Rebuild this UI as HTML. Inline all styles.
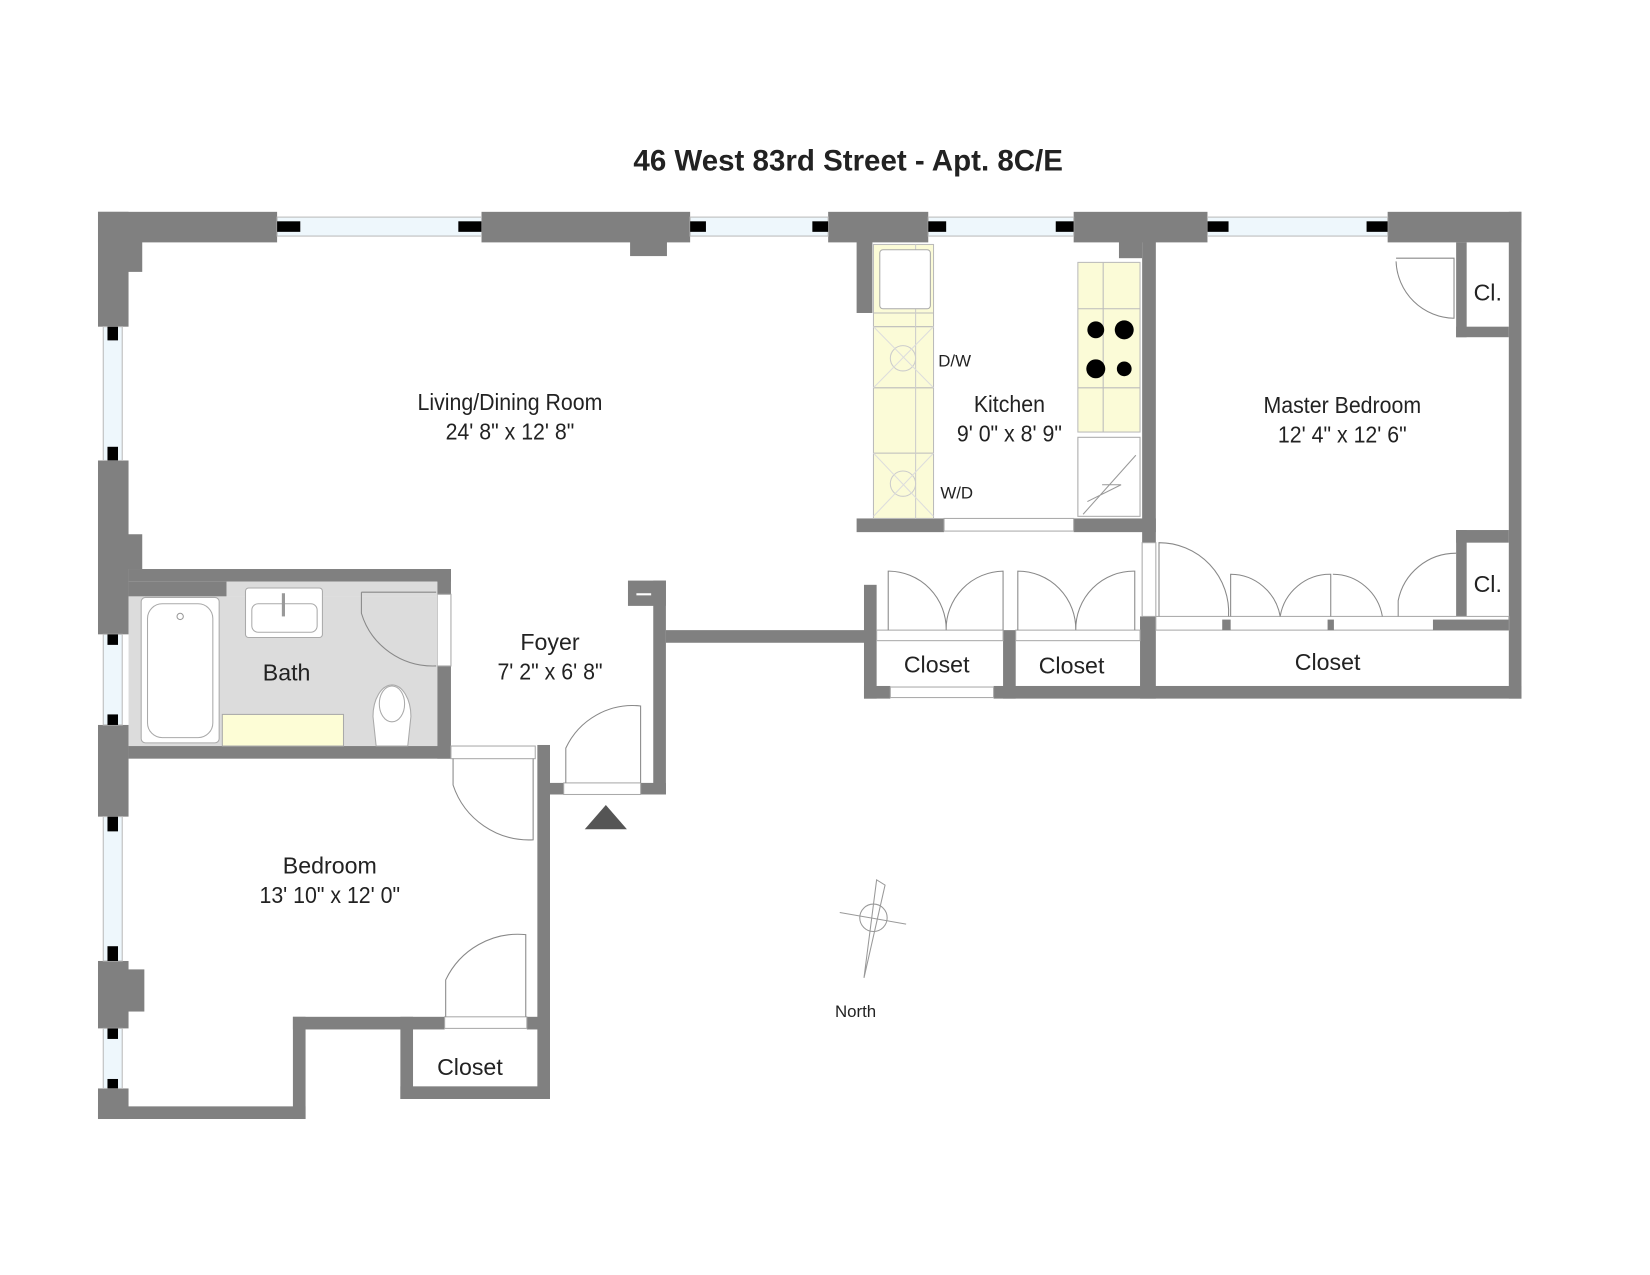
<!DOCTYPE html>
<html><head><meta charset="utf-8"><style>
html,body{margin:0;padding:0;background:#fff;}
svg{display:block;}
text{font-family:"Liberation Sans",sans-serif;fill:#222;}
</style></head><body>
<svg width="1650" height="1275" viewBox="0 0 1566 1210" xmlns="http://www.w3.org/2000/svg">
<rect width="1566" height="1210" fill="#fff"/>
<text x="805" y="162" font-size="28" font-weight="bold" text-anchor="middle" fill="#111">46 West 83rd Street - Apt. 8C/E</text>

<g fill="#808080">
<rect x="93" y="201" width="170" height="29"/>
<rect x="457" y="201" width="198" height="29"/>
<rect x="598" y="228" width="35" height="15"/>
<rect x="786" y="201" width="95" height="29"/>
<rect x="1019" y="201" width="127" height="29"/>
<rect x="1062" y="228" width="22" height="17"/>
<rect x="1317" y="201" width="127" height="29"/>
<rect x="93" y="201" width="29" height="109"/>
<rect x="120" y="228" width="15" height="30"/>
<rect x="93" y="437" width="29" height="165"/>
<rect x="120" y="507" width="15" height="33"/>
<rect x="93" y="688" width="29" height="87"/>
<rect x="93" y="912" width="29" height="64"/>
<rect x="120" y="920" width="17" height="40"/>
<rect x="93" y="1033" width="29" height="29"/>
<rect x="93" y="1050" width="197" height="12"/>
<rect x="278" y="965" width="12" height="97"/>
<rect x="278" y="965" width="144" height="12"/>
<rect x="500" y="965" width="22" height="12"/>
<rect x="380" y="965" width="12" height="78"/>
<rect x="380" y="1031" width="142" height="12"/>
<rect x="510" y="707" width="12" height="336"/>
<rect x="122" y="540" width="306" height="12"/>
<rect x="122" y="552" width="93" height="14"/>
<rect x="415" y="540" width="13" height="24"/>
<rect x="415" y="632" width="13" height="88"/>
<rect x="122" y="708" width="306" height="12"/>
<rect x="596" y="551" width="36" height="24"/>
<rect x="620" y="551" width="12" height="203"/>
<rect x="608" y="743" width="24" height="11"/>
<rect x="522" y="743" width="13" height="11"/>
<rect x="632" y="598" width="190" height="12"/>
<rect x="820" y="555" width="12" height="108"/>
<rect x="820" y="651" width="25" height="12"/>
<rect x="943" y="651" width="501" height="12"/>
<rect x="952" y="598" width="12" height="65"/>
<rect x="1082" y="585" width="15" height="78"/>
<rect x="1432" y="201" width="12" height="462"/>
<rect x="813" y="228" width="15" height="69"/>
<rect x="813" y="492" width="83" height="13"/>
<rect x="1019" y="492" width="78" height="13"/>
<rect x="1084" y="228" width="13" height="287"/>
<rect x="1382" y="230" width="10" height="90"/>
<rect x="1382" y="310" width="50" height="10"/>
<rect x="1382" y="503" width="50" height="12"/>
<rect x="1382" y="503" width="10" height="82"/>
</g>
<rect x="604" y="563" width="14" height="2" fill="#fff"/>

<g fill="#fff" stroke="#aaa" stroke-width="1">
<rect x="832" y="598" width="120" height="10"/>
<rect x="964" y="598" width="118" height="10"/>
<rect x="1097" y="585" width="335" height="13"/>
<rect x="845" y="652" width="98" height="10"/>
<rect x="422" y="965" width="78" height="11"/>
<rect x="428" y="708" width="80" height="12"/>
<rect x="535" y="743" width="73" height="11"/>
<rect x="896" y="492" width="123" height="12"/>
<rect x="1084" y="515" width="13" height="70"/>
<rect x="415" y="564" width="13" height="68"/>
</g>
<g fill="#808080">
<rect x="1160" y="588" width="8" height="10"/><rect x="1260" y="588" width="6" height="10"/><rect x="1360" y="588" width="72" height="10"/>
</g>

<g>
<rect x="263" y="206" width="194" height="18" fill="#eef7fc" stroke="#bbb"/>
<rect x="263" y="210" width="22" height="10" fill="#000"/><rect x="435" y="210" width="22" height="10" fill="#000"/>
<rect x="655" y="206" width="131" height="18" fill="#eef7fc" stroke="#bbb"/>
<rect x="655" y="210" width="15" height="10" fill="#000"/><rect x="771" y="210" width="15" height="10" fill="#000"/>
<rect x="881" y="206" width="138" height="18" fill="#eef7fc" stroke="#bbb"/>
<rect x="881" y="210" width="17" height="10" fill="#000"/><rect x="1002" y="210" width="17" height="10" fill="#000"/>
<rect x="1146" y="206" width="171" height="18" fill="#eef7fc" stroke="#bbb"/>
<rect x="1146" y="210" width="20" height="10" fill="#000"/><rect x="1297" y="210" width="20" height="10" fill="#000"/>
<rect x="98" y="310" width="18" height="127" fill="#eef7fc" stroke="#bbb"/>
<rect x="102" y="310" width="10" height="13" fill="#000"/><rect x="102" y="424" width="10" height="13" fill="#000"/>
<rect x="98" y="602" width="18" height="86" fill="#eef7fc" stroke="#bbb"/>
<rect x="102" y="602" width="10" height="10" fill="#000"/><rect x="102" y="678" width="10" height="10" fill="#000"/>
<rect x="98" y="775" width="18" height="137" fill="#eef7fc" stroke="#bbb"/>
<rect x="102" y="775" width="10" height="14" fill="#000"/><rect x="102" y="898" width="10" height="14" fill="#000"/>
<rect x="98" y="976" width="18" height="57" fill="#eef7fc" stroke="#bbb"/>
<rect x="102" y="976" width="10" height="10" fill="#000"/><rect x="102" y="1024" width="10" height="9" fill="#000"/>
</g>

<rect x="122" y="566" width="293" height="142" fill="#dcdcdc"/>
<rect x="215" y="552" width="200" height="14" fill="#dcdcdc"/>
<rect x="134" y="567" width="74" height="138" rx="4" fill="#fff" stroke="#aaa"/>
<rect x="140" y="573" width="62" height="127" rx="14" fill="#fff" stroke="#aaa"/>
<circle cx="171" cy="585" r="3" fill="#fff" stroke="#999"/>
<rect x="233" y="558" width="73" height="47" rx="3" fill="#fff" stroke="#aaa"/>
<rect x="239" y="573" width="62" height="27" rx="6" fill="#fff" stroke="#aaa"/>
<line x1="269" y1="563" x2="269" y2="585" stroke="#999" stroke-width="3"/>
<rect x="211" y="678" width="115" height="30" fill="#fdfdd6" stroke="#aaa"/>
<path d="M357 708 L354 680 A18 30 0 1 1 390 680 L387 708 Z" fill="#fff" stroke="#aaa"/>
<ellipse cx="372" cy="668" rx="12" ry="17" fill="#fff" stroke="#aaa"/>
<path d="M343 562 L343 582 A71 70 0 0 0 414 632" fill="none" stroke="#888"/>
<line x1="343" y1="562" x2="414" y2="562" stroke="#888"/>

<g fill="none" stroke="#888">
<path d="M430 720 L430 745 A76 76 0 0 0 506 797 L506 720"/>
<path d="M537 743 L537 710 A70 70 0 0 1 608 670 L608 743"/>
<path d="M423 965 L423 930 A76 76 0 0 1 499 887 L499 965"/>
<path d="M1325 245 L1380 245 L1380 302 A56 56 0 0 1 1325 248"/>
<path d="M1327 585 L1327 570 A56 56 0 0 1 1382 525"/>
<path d="M843 598 L843 542 A55 55 0 0 1 898 598 A55 55 0 0 1 952 542 L952 598"/>
<path d="M966 598 L966 542 A55 55 0 0 1 1021 598 A55 55 0 0 1 1077 542 L1077 598"/>
<path d="M1100 585 L1100 515 A66 66 0 0 1 1166 585"/>
<path d="M1168 585 L1168 545 A48 48 0 0 1 1215 585 A48 48 0 0 1 1263 545 L1263 585"/>
<path d="M1265 545 A48 48 0 0 1 1312 585"/>
</g>

<rect x="829" y="232" width="57" height="260" fill="#fbfbd7" stroke="#bbb"/>
<line x1="829" y1="297" x2="886" y2="297" stroke="#bbb"/>
<line x1="829" y1="310" x2="886" y2="310" stroke="#bbb"/>
<line x1="829" y1="368" x2="886" y2="368" stroke="#bbb"/>
<line x1="829" y1="430" x2="886" y2="430" stroke="#bbb"/>
<line x1="869" y1="232" x2="869" y2="492" stroke="#ccc"/>
<rect x="835" y="237" width="48" height="56" rx="3" fill="#fff" stroke="#aaa"/>
<circle cx="857" cy="340" r="12" fill="none" stroke="#ccc"/>
<circle cx="857" cy="459" r="12" fill="none" stroke="#ccc"/>
<path d="M829 310 L886 368 M886 310 L829 368 M829 430 L886 490 M886 430 L829 490" stroke="#ddd"/>
<rect x="1023" y="249" width="59" height="161" fill="#fbfbd7" stroke="#bbb"/>
<line x1="1023" y1="293" x2="1082" y2="293" stroke="#bbb"/>
<line x1="1023" y1="368" x2="1082" y2="368" stroke="#bbb"/>
<line x1="1047" y1="249" x2="1047" y2="410" stroke="#bbb"/>
<circle cx="1040" cy="313" r="8" fill="#000"/><circle cx="1067" cy="313" r="9" fill="#000"/>
<circle cx="1040" cy="350" r="9" fill="#000"/><circle cx="1067" cy="350" r="7" fill="#000"/>
<rect x="1023" y="415" width="59" height="75" fill="#fff" stroke="#aaa"/>
<path d="M1028 488 L1078 432 M1046 460 L1064 460 L1032 476" fill="none" stroke="#999"/>

<polygon points="575,764 555,787 595,787" fill="#555"/>

<g stroke="#999" fill="none">
<circle cx="829" cy="871" r="13"/>
<line x1="797" y1="866" x2="860" y2="877"/>
<path d="M832 835 L820 928 L840 840 Z"/>
</g>

<g font-size="22" text-anchor="middle" textLength="0">
<text x="484" y="389" transform="translate(484 0) scale(0.92 1) translate(-484 0)">Living/Dining Room</text>
<text x="484" y="417" transform="translate(484 0) scale(0.92 1) translate(-484 0)">24' 8" x 12' 8"</text>
<text x="958" y="391" transform="translate(958 0) scale(0.92 1) translate(-958 0)">Kitchen</text>
<text x="958" y="419" transform="translate(958 0) scale(0.92 1) translate(-958 0)">9' 0" x 8' 9"</text>
<text x="1274" y="392" transform="translate(1274 0) scale(0.92 1) translate(-1274 0)">Master Bedroom</text>
<text x="1274" y="420" transform="translate(1274 0) scale(0.92 1) translate(-1274 0)">12' 4" x 12' 6"</text>
<text x="272" y="646">Bath</text>
<text x="522" y="617">Foyer</text>
<text x="522" y="645" transform="translate(522 0) scale(0.92 1) translate(-522 0)">7' 2" x 6' 8"</text>
<text x="313" y="829">Bedroom</text>
<text x="313" y="857" transform="translate(313 0) scale(0.92 1) translate(-313 0)">13' 10" x 12' 0"</text>
<text x="889" y="638">Closet</text>
<text x="1017" y="639">Closet</text>
<text x="1260" y="636">Closet</text>
<text x="446" y="1020">Closet</text>
<text x="1412" y="285">Cl.</text>
<text x="1412" y="562">Cl.</text>
</g>
<g font-size="16" text-anchor="middle">
<text x="906" y="348">D/W</text>
<text x="908" y="473">W/D</text>
<text x="812" y="965">North</text>
</g>
</svg>
</body></html>
